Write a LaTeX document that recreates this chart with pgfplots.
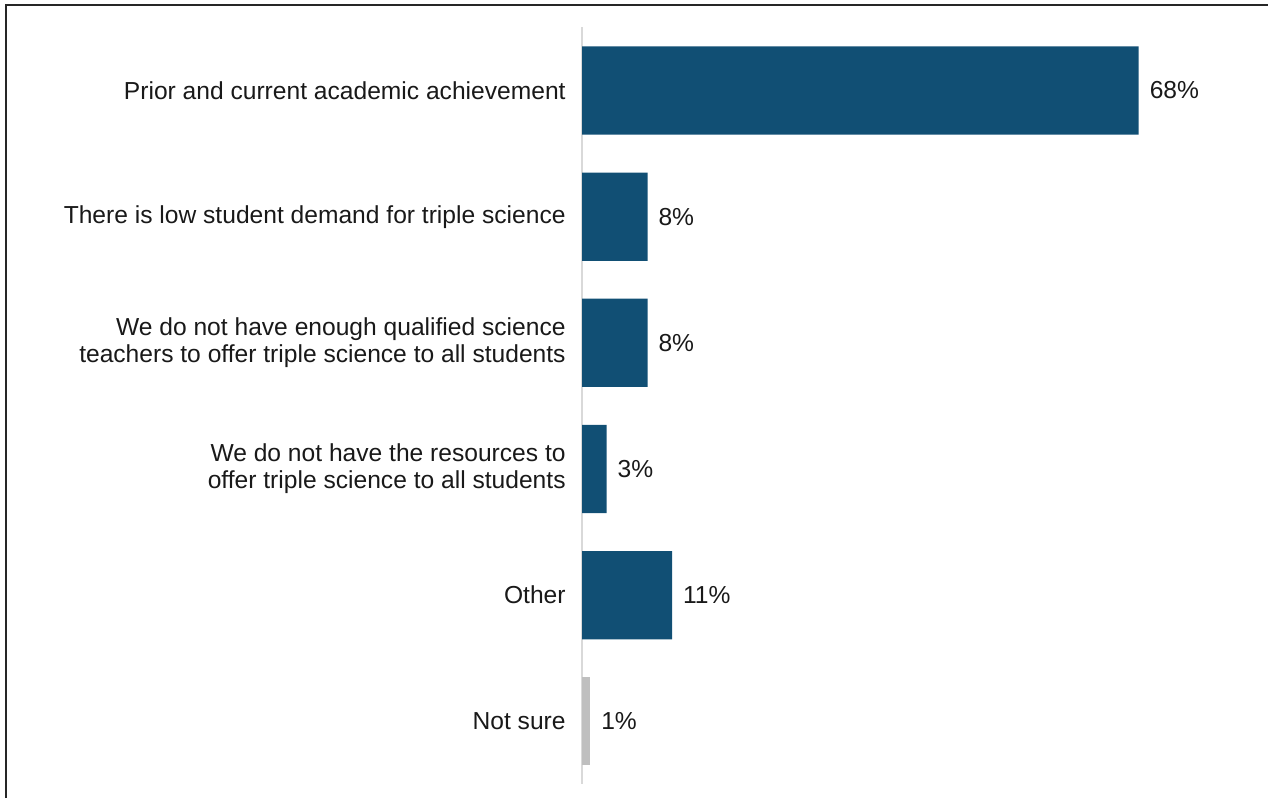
\documentclass[border=0pt]{standalone}
\usepackage{pgfplots}
\pgfplotsset{compat=1.18}
\usepackage{fontspec}
\setmainfont{Liberation Sans}
\definecolor{barblue}{RGB}{17,79,116}
\definecolor{bargray}{RGB}{191,191,191}
\definecolor{axgray}{RGB}{217,217,217}
\begin{document}
\begin{tikzpicture}[x=1pt,y=1pt]
\path[use as bounding box] (0,0) rectangle (634,399);
\draw[line width=1.1pt, black!85] (3,0) -- (3,396.5) -- (634,396.5);
\begin{axis}[
  at={(291pt,6.8pt)}, anchor=south west,
  scale only axis, width=327.5pt, height=378.5pt,
  xmin=0, xmax=80, ymin=-0.5, ymax=5.5, y dir=reverse,
  xbar, bar width=0.7, bar shift=0pt,
  axis x line=none, axis y line=left,
  y axis line style={-, axgray, line width=0.8pt},
  ytick={0,1,2,3,4,5},
  yticklabels={
    {Prior and current academic achievement},
    {There is low student demand for triple science},
    {We do not have enough qualified science\\teachers to offer triple science to all students},
    {We do not have the resources to\\offer triple science to all students},
    {Other},
    {Not sure}},
  major tick length=0pt,
  yticklabel style={align=right, inner sep=0pt, xshift=-8pt,
    font=\fontsize{12.3pt}{13.5pt}\selectfont, text=black!90},
  /pgf/number format/assume math mode=true,
  nodes near coords={\pgfmathprintnumber{\pgfplotspointmeta}\%},
  every node near coord/.append style={anchor=west, xshift=2pt,
    font=\fontsize{12.3pt}{13.5pt}\selectfont, text=black!90},
  clip=false,
]
\addplot[fill=barblue, draw=none] coordinates {(68,0) (8,1) (8,2) (3,3) (11,4)};
\addplot[fill=bargray, draw=none] coordinates {(1,5)};
\end{axis}
\end{tikzpicture}
\end{document}
